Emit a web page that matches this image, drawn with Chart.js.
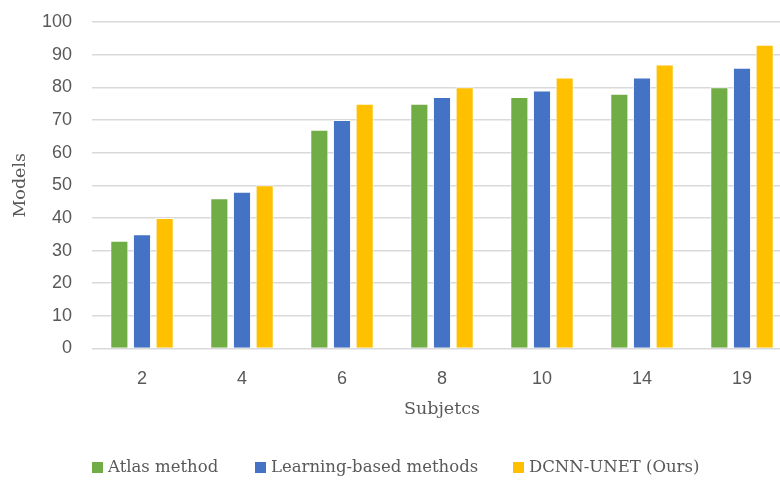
<!DOCTYPE html>
<html>
<head>
<meta charset="utf-8">
<script src="https://cdn.jsdelivr.net/npm/chart.js@4/dist/chart.umd.min.js"></script>
<style>
  html, body { margin: 0; padding: 0; background: #fff; overflow: hidden; width: 780px; height: 482px; }
  #wrap { position: relative; width: 780px; height: 482px; overflow: hidden; }
  #c { position: absolute; left: 0; top: 0; }
  #legend { position: absolute; left: 0; top: 455px; height: 24px; font-family: "DejaVu Serif", serif; font-size: 16.5px; color: #595959; }
  .item { position: absolute; top: 0; white-space: nowrap; line-height: 24px; }
  .swatch { display: inline-block; width: 11px; height: 11px; margin-right: 5px; vertical-align: -1px; }
</style>
</head>
<body>
<div id="wrap">
  <canvas id="c" width="800" height="482"></canvas>
  <div id="legend"></div>
</div>
<script>
// Subject counts on the x axis
const subjects = ['2', '4', '6', '8', '10', '14', '19'];

// Scores per method
const atlasMethod   = [33, 46, 67, 75, 77, 78, 80];
const learningBased = [35, 48, 70, 77, 79, 83, 86];
const dcnnUnet      = [40, 50, 75, 80, 83, 87, 93];

const seriesNames = ['Atlas method', 'Learning-based methods', 'DCNN-UNET (Ours)'];
const seriesColors = ['#70AD47', '#4472C4', '#FFC000'];
const seriesValues = [atlasMethod, learningBased, dcnnUnet];

const yTicks = { min: 0, max: 100, step: 10 };

const grey = '#595959';

const datasets = seriesValues.map((vals, i) => ({
  label: seriesNames[i],
  data: vals,
  backgroundColor: seriesColors[i],
  borderColor: 'rgba(255,255,255,0.7)',
  borderWidth: 1,
  categoryPercentage: 0.68,
  barPercentage: 0.8
}));

new Chart(document.getElementById('c'), {
  type: 'bar',
  data: { labels: subjects, datasets },
  options: {
    responsive: false,
    devicePixelRatio: 1,
    animation: false,
    layout: { padding: { top: 22, right: 8, bottom: 57, left: 0 } },
    plugins: { legend: { display: false }, tooltip: { enabled: false } },
    scales: {
      x: {
        grid: { display: false },
        border: { display: false },
        ticks: { color: grey, font: { family: 'Liberation Sans', size: 18 }, padding: 12 },
        title: {
          display: true, text: 'Subjetcs', color: grey,
          font: { family: 'DejaVu Serif', size: 17.5 },
          padding: { top: 0, bottom: 5 }
        },
        afterFit: (s) => { s.height = 425 - 348.5; }
      },
      y: {
        min: yTicks.min, max: yTicks.max,
        grid: { color: '#d9d9d9', lineWidth: 1.5, drawTicks: false },
        border: { display: false },
        ticks: { stepSize: yTicks.step, color: grey, font: { family: 'Liberation Sans', size: 18 }, padding: 20 },
        title: {
          display: true, text: 'Models', color: grey,
          font: { family: 'DejaVu Serif', size: 17.5 },
          padding: { top: 10, bottom: 0 }
        },
        afterFit: (s) => { s.width = 92; s.paddingTop = 0; s.paddingBottom = 0; }
      }
    }
  }
});

// Legend row under the chart
const legendLeft = [92, 255, 513];
const legend = document.getElementById('legend');
seriesNames.forEach((name, i) => {
  const item = document.createElement('div');
  item.className = 'item';
  item.style.left = legendLeft[i] + 'px';
  const sw = document.createElement('span');
  sw.className = 'swatch';
  sw.style.background = seriesColors[i];
  item.appendChild(sw);
  item.appendChild(document.createTextNode(name));
  legend.appendChild(item);
});
</script>
</body>
</html>
